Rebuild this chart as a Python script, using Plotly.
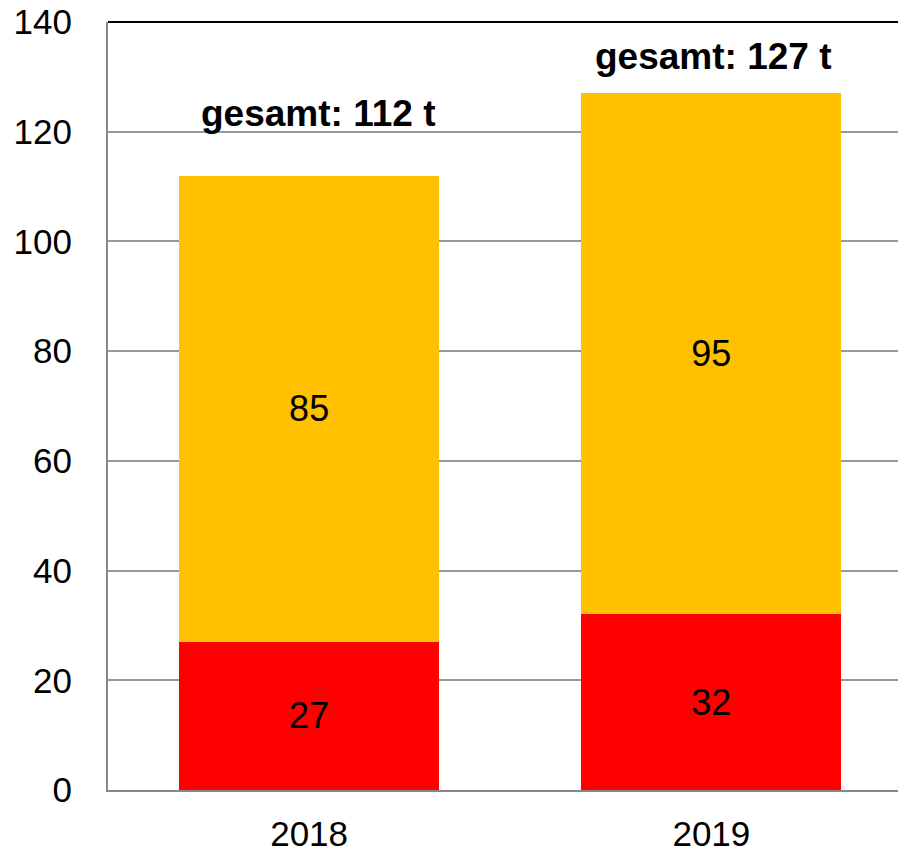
import plotly.graph_objects as go

years = ["2018", "2019"]
rot = [27, 32]
gelb = [85, 95]
gesamt = [112, 127]
gesamt_labels = ["gesamt: 112 t", "gesamt: 127 t"]
y_ticks = [0, 20, 40, 60, 80, 100, 120, 140]

FONT = "Liberation Sans, Arial, sans-serif"
xpos = list(range(len(years)))

fig = go.Figure()
fig.add_trace(go.Bar(
    x=xpos, y=rot, width=0.646, marker=dict(color="#FF0000", line=dict(width=0)),
    text=[str(v) for v in rot], textposition="inside", insidetextanchor="middle",
    textfont=dict(family=FONT, size=36, color="#000000"), textangle=0,
))
fig.add_trace(go.Bar(
    x=xpos, y=gelb, width=0.646, marker=dict(color="#FFC000", line=dict(width=0)),
    text=[str(v) for v in gelb], textposition="inside", insidetextanchor="middle",
    textfont=dict(family=FONT, size=36, color="#000000"), textangle=0,
))

shifts = [(9, 62), (2, 37)]
for i, (lab, tot) in enumerate(zip(gesamt_labels, gesamt)):
    fig.add_annotation(
        x=xpos[i], y=tot, text="<b>%s</b>" % lab, showarrow=False,
        xanchor="center", yanchor="middle",
        xshift=shifts[i][0], yshift=shifts[i][1],
        font=dict(family=FONT, size=37, color="#000000"),
    )

# black top border line
fig.add_shape(type="line", xref="paper", yref="paper", x0=0, x1=1, y0=1, y1=1,
              line=dict(color="#000000", width=2))

fig.update_layout(
    width=898, height=854,
    margin=dict(l=108, r=0, t=22, b=64),
    barmode="stack", showlegend=False,
    plot_bgcolor="white", paper_bgcolor="white",
    font=dict(family=FONT, size=35, color="#000000"),
)
fig.update_xaxes(
    range=[-0.5, 1.464], tickvals=xpos, ticktext=years,
    showgrid=False, zeroline=False, showline=True, linecolor="#888888", linewidth=2,
    ticks="", ticklabelstandoff=12, tickfont=dict(family=FONT, size=35, color="#000000"),
)
fig.update_yaxes(
    range=[0, 140], tickvals=y_ticks,
    showgrid=True, gridcolor="#999999", gridwidth=1.5, zeroline=False,
    showline=True, linecolor="#888888", linewidth=2,
    ticks="", ticklabelstandoff=27, tickfont=dict(family=FONT, size=35, color="#000000"),
)

fig.write_html(
    "out.html",
    config={"displayModeBar": False},
    post_script="document.body.style.margin='0px';document.body.style.overflow='hidden';",
)
